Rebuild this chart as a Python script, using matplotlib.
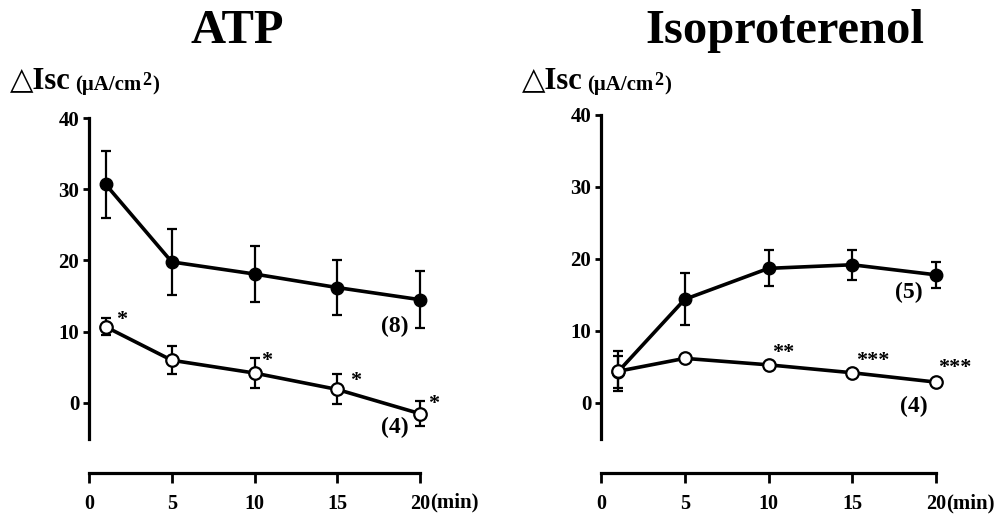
import numpy as np
import matplotlib.pyplot as plt

plt.rcParams['font.family'] = ['Liberation Serif', 'DejaVu Serif']
plt.rcParams['font.weight'] = 'bold'

# time points (min)
t = [1, 5, 10, 15, 20]

# ATP
atp_ctrl = [30.7, 19.8, 18.1, 16.2, 14.5]
atp_ctrl_err = [4.7, 4.6, 3.9, 3.8, 4.0]
atp_treat = [10.7, 6.0, 4.2, 1.9, -1.5]
atp_treat_err = [1.2, 2.0, 2.1, 2.1, 1.8]

# Isoproterenol
iso_ctrl = [4.3, 14.4, 18.7, 19.2, 17.8]
iso_ctrl_err = [2.2, 3.6, 2.5, 2.1, 1.8]
iso_treat = [4.4, 6.2, 5.3, 4.2, 2.9]
iso_treat_err = [2.8, 0.3, 0.3, 0.3, 0.3]

yticks = [0, 10, 20, 30, 40]
xticks = [0, 5, 10, 15, 20]

fig = plt.figure(figsize=(9.98, 5.14), dpi=100)
W, H = 998, 514


def make_ax(x0, x20, y40, ym5):
    ax = fig.add_axes([x0 / W, (H - ym5) / H, (x20 - x0) / W, (ym5 - y40) / H])
    ax.set_xlim(0, 20)
    ax.set_ylim(-5, 40)
    ax.spines['top'].set_visible(False)
    ax.spines['right'].set_visible(False)
    ax.spines['left'].set_linewidth(2.3)
    ax.spines['bottom'].set_linewidth(2.3)
    ax.spines['bottom'].set_position(('outward', (473 - ym5) * 0.72))
    ax.set_yticks(yticks)
    ax.set_xticks(xticks)
    ax.tick_params(axis='y', length=4, width=2, pad=3, labelsize=15)
    ax.tick_params(axis='x', length=7, width=2, pad=8, labelsize=14.5)
    for lab in ax.get_xticklabels() + ax.get_yticklabels():
        lab.set_fontweight('bold')
    ax.patch.set_visible(False)
    return ax


def draw(ax, ctrl, ctrl_err, treat, treat_err):
    ax.errorbar(t, ctrl, yerr=ctrl_err, color='black', lw=2.6, marker='o',
                ms=9, mfc='black', mec='black', elinewidth=1.6, capsize=3.5,
                capthick=1.6, clip_on=False, zorder=3)
    ax.errorbar(t, treat, yerr=treat_err, color='black', lw=2.6, marker='o',
                ms=9, mfc='white', mec='black', mew=1.6, elinewidth=1.6,
                capsize=3.5, capthick=1.6, clip_on=False, zorder=4)


def ylabel(ax, x, y):
    t1 = fig.text(x / W, 1 - y / H, '△Isc', fontsize=22, fontweight='bold',
                  va='baseline', ha='left')
    t2 = ax.annotate('(μA/cm', xy=(1, 0), xycoords=t1, xytext=(3, 0),
                     textcoords='offset points', fontsize=15, fontweight='bold',
                     va='bottom', ha='left', annotation_clip=False)
    ax.annotate('2', xy=(1, 0), xycoords=t2, xytext=(0.5, 4),
                textcoords='offset points', fontsize=13, fontweight='bold',
                va='bottom', ha='left', annotation_clip=False)
    ax.annotate(')', xy=(1, 0), xycoords=t2, xytext=(8, 0),
                textcoords='offset points', fontsize=15, fontweight='bold',
                va='bottom', ha='left', annotation_clip=False)


# ATP panel
ax1 = make_ax(89, 420, 118, 438.6)
draw(ax1, atp_ctrl, atp_ctrl_err, atp_treat, atp_treat_err)
for x, y, s in [(2.0, 11.6, '*'), (10.75, 5.9, '*'), (16.1, 3.1, '*'), (20.8, -0.1, '*')]:
    ax1.text(x, y, s, fontsize=16, fontweight='bold', ha='center', va='center')
ax1.text(19.3, 10.7, '(8)', fontsize=17, fontweight='bold', ha='right', va='center')
ax1.text(19.3, -3.5, '(4)', fontsize=17, fontweight='bold', ha='right', va='center')
ax1.text(20.6, -14.0, '(min)', fontsize=15, fontweight='bold', ha='left', va='center',
         clip_on=False)
fig.text(237 / W, 1 - 31 / H, 'ATP', fontsize=35, fontweight='bold', ha='center', va='center')
ylabel(ax1, 10, 88)

# Isoproterenol panel
ax2 = make_ax(601, 936, 115, 439)
draw(ax2, iso_ctrl, iso_ctrl_err, iso_treat, iso_treat_err)
for x, y, s in [(10.9, 7.0, '**'), (16.2, 5.9, '***'), (21.1, 4.8, '***')]:
    ax2.text(x, y, s, fontsize=16, fontweight='bold', ha='center', va='center')
ax2.text(19.2, 15.3, '(5)', fontsize=17, fontweight='bold', ha='right', va='center')
ax2.text(19.5, -0.5, '(4)', fontsize=17, fontweight='bold', ha='right', va='center')
ax2.text(20.6, -14.0, '(min)', fontsize=15, fontweight='bold', ha='left', va='center',
         clip_on=False)
fig.text(785 / W, 1 - 31 / H, 'Isoproterenol', fontsize=35, fontweight='bold',
         ha='center', va='center')
ylabel(ax2, 522, 88)

fig.savefig('out.png', dpi=100)
